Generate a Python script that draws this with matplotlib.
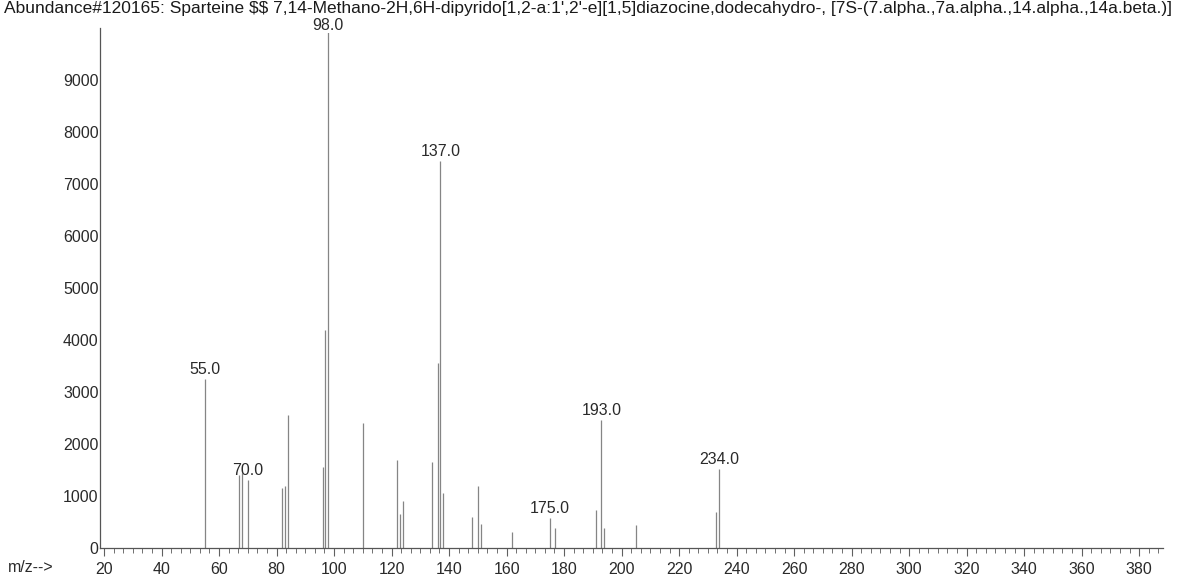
import numpy as np
import matplotlib
matplotlib.use("Agg")
from matplotlib import pyplot as plt
from matplotlib.ticker import MultipleLocator, FixedLocator

plt.rcParams['font.family'] = ['Liberation Sans', 'DejaVu Sans']

title = ("Abundance#120165: Sparteine \\$\\$ 7,14-Methano-2H,6H-dipyrido[1,2-a:1',2'-e][1,5]"
         "diazocine,dodecahydro-, [7S-(7.alpha.,7a.alpha.,14.alpha.,14a.beta.)]")

# m/z 与丰度
mz = [55, 67, 68, 70, 82, 83, 84, 96, 97, 98, 110, 122, 123, 124, 134, 136, 137, 138,
      148, 150, 151, 162, 175, 177, 191, 193, 194, 205, 233, 234]
abund = [3250, 1400, 1450, 1300, 1150, 1200, 2550, 1550, 4200, 9950, 2400, 1700, 650, 900,
         1650, 3550, 7450, 1050, 600, 1200, 460, 300, 580, 380, 730, 2460, 380, 440, 700, 1520]
label_mz = [55, 70, 98, 137, 175, 193, 234]

x_ticks = list(range(20, 381, 20))
y_ticks = list(range(0, 9001, 1000))

W, H = 1182, 583
fig = plt.figure(figsize=(W / 100, H / 100), dpi=100)
ax = fig.add_axes([100 / W, 35 / H, (1163 - 100) / W, (548 - 28) / H])

ax.vlines(mz, 0, abund, color='#858585', lw=0.9)

lookup = dict(zip(mz, abund))
for m in label_mz:
    # 基峰标签顶到标题下面，往下压一点
    dy = -2 if m == 98 else 1.5
    ax.annotate(f"{m:.1f}", (m, lookup[m]), xytext=(0, dy), textcoords='offset points',
                ha='center', va='bottom', fontsize=11.5, color='#2a2a2a',
                bbox=dict(boxstyle='square,pad=0', fc='white', ec='none') if m == 98 else None)

ax.set_xlim(18.6, 388.3)
ax.set_ylim(0, 10000)
for s in ['top', 'right']:
    ax.spines[s].set_visible(False)
for s in ['left', 'bottom']:
    ax.spines[s].set_color('#555555')
    ax.spines[s].set_linewidth(0.9)

ax.xaxis.set_major_locator(FixedLocator(x_ticks))
ax.xaxis.set_minor_locator(MultipleLocator(10 / 3))
ax.tick_params(axis='x', which='major', length=6, width=0.8, color='#606060',
               labelsize=11.5, labelcolor='#2a2a2a', pad=4)
ax.tick_params(axis='x', which='minor', length=3.5, width=0.7, color='#707070')
ax.yaxis.set_major_locator(FixedLocator(y_ticks))
ax.tick_params(axis='y', length=0, labelsize=11.5, labelcolor='#2a2a2a', pad=1)

fig.text(8 / W, 1 - 567 / H, "m/z-->", fontsize=11.5, color='#2a2a2a', va='center', ha='left')

t = fig.text(4 / W, 1 - 8 / H, title, fontsize=10, color='#1a1a1a', va='center', ha='left')
fig.canvas.draw()
w = t.get_window_extent().width
t.set_fontsize(10 * 1168 / w)

fig.savefig("out.png", dpi=100)
